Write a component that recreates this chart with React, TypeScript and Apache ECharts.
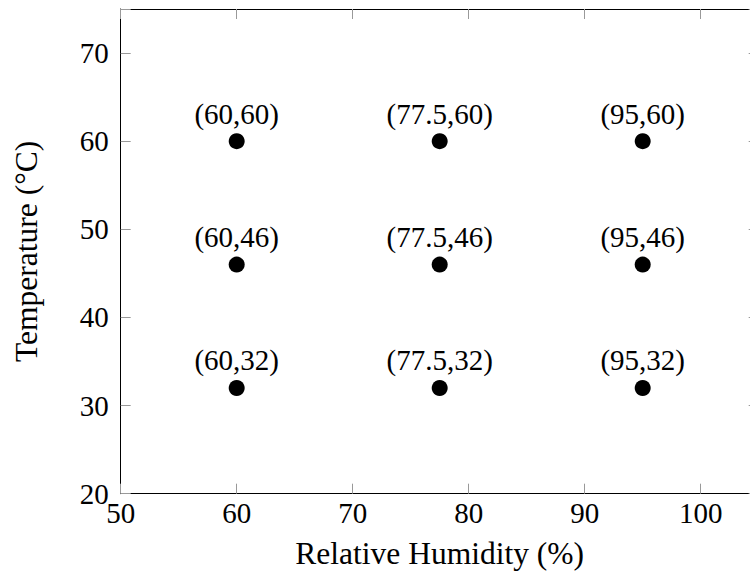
import React, { useEffect, useRef } from "react";
import * as echarts from "echarts";

const humidity = [60, 77.5, 95];
const temperature = [32, 46, 60];
const xTicks = [50, 60, 70, 80, 90, 100];
const yTicks = [20, 30, 40, 50, 60, 70];

const FONT = "'Liberation Serif', 'Times New Roman', serif";

export default function App() {
  const ref = useRef<HTMLDivElement>(null);
  useEffect(() => {
    if (!ref.current) return;
    const chart = echarts.init(ref.current, undefined, { renderer: "svg" });
    const points: number[][] = [];
    for (const t of temperature) for (const h of humidity) points.push([h, t]);
    const axisLine = { show: true, lineStyle: { color: "#000", width: 1 } };
    const tick = { show: true, inside: true, length: 10, lineStyle: { color: "#999", width: 1 } };
    chart.setOption({
      animation: false,
      backgroundColor: "#fff",
      grid: {
        left: 120.7,
        right: 1.3,
        top: 9,
        bottom: 83.3,
        containLabel: false,
        outerBoundsMode: "none",
      },
      xAxis: [
        {
          type: "value",
          min: 50,
          max: 105,
          interval: 10,
          position: "bottom",
          axisLine,
          axisTick: tick,
          splitLine: { show: false },
          axisLabel: {
            color: "#000",
            fontFamily: FONT,
            fontSize: 29,
            margin: 5,
            formatter: (v: number) => (xTicks.includes(v) ? String(v) : ""),
          },
          name: "Relative Humidity (%)",
          nameLocation: "middle",
          nameGap: 44,
          nameTextStyle: { color: "#000", fontFamily: FONT, fontSize: 31.5 },
        },
        {
          type: "value",
          min: 50,
          max: 105,
          interval: 10,
          position: "top",
          axisLine,
          axisTick: tick,
          splitLine: { show: false },
          axisLabel: { show: false },
        },
      ],
      yAxis: [
        {
          type: "value",
          min: 20,
          max: 75,
          interval: 10,
          position: "left",
          axisLine,
          axisTick: tick,
          splitLine: { show: false },
          axisLabel: {
            color: "#000",
            fontFamily: FONT,
            fontSize: 29,
            margin: 12,
            formatter: (v: number) => (yTicks.includes(v) ? String(v) : ""),
          },
          name: "Temperature (°C)",
          nameLocation: "middle",
          nameGap: 78,
          nameRotate: 90,
          nameTextStyle: { color: "#000", fontFamily: FONT, fontSize: 31.5 },
        },
        {
          type: "value",
          min: 20,
          max: 75,
          interval: 10,
          position: "right",
          axisLine,
          axisTick: tick,
          splitLine: { show: false },
          axisLabel: { show: false },
        },
      ],
      series: [
        {
          type: "scatter",
          data: points,
          symbol: "circle",
          symbolSize: 16,
          itemStyle: { color: "#000", opacity: 1 },
          label: {
            show: true,
            position: "top",
            distance: 5,
            color: "#000",
            opacity: 1,
            fontFamily: FONT,
            fontSize: 29,
            formatter: (p: any) => `(${p.value[0]},${p.value[1]})`,
          },
        },
      ],
    });
    return () => chart.dispose();
  }, []);
  return (
    <div
      style={{
        position: "fixed",
        left: 0,
        top: 0,
        width: 750,
        height: 577,
        overflow: "hidden",
        background: "#fff",
      }}
    >
      <div ref={ref} style={{ width: 760, height: 577 }} />
    </div>
  );
}
